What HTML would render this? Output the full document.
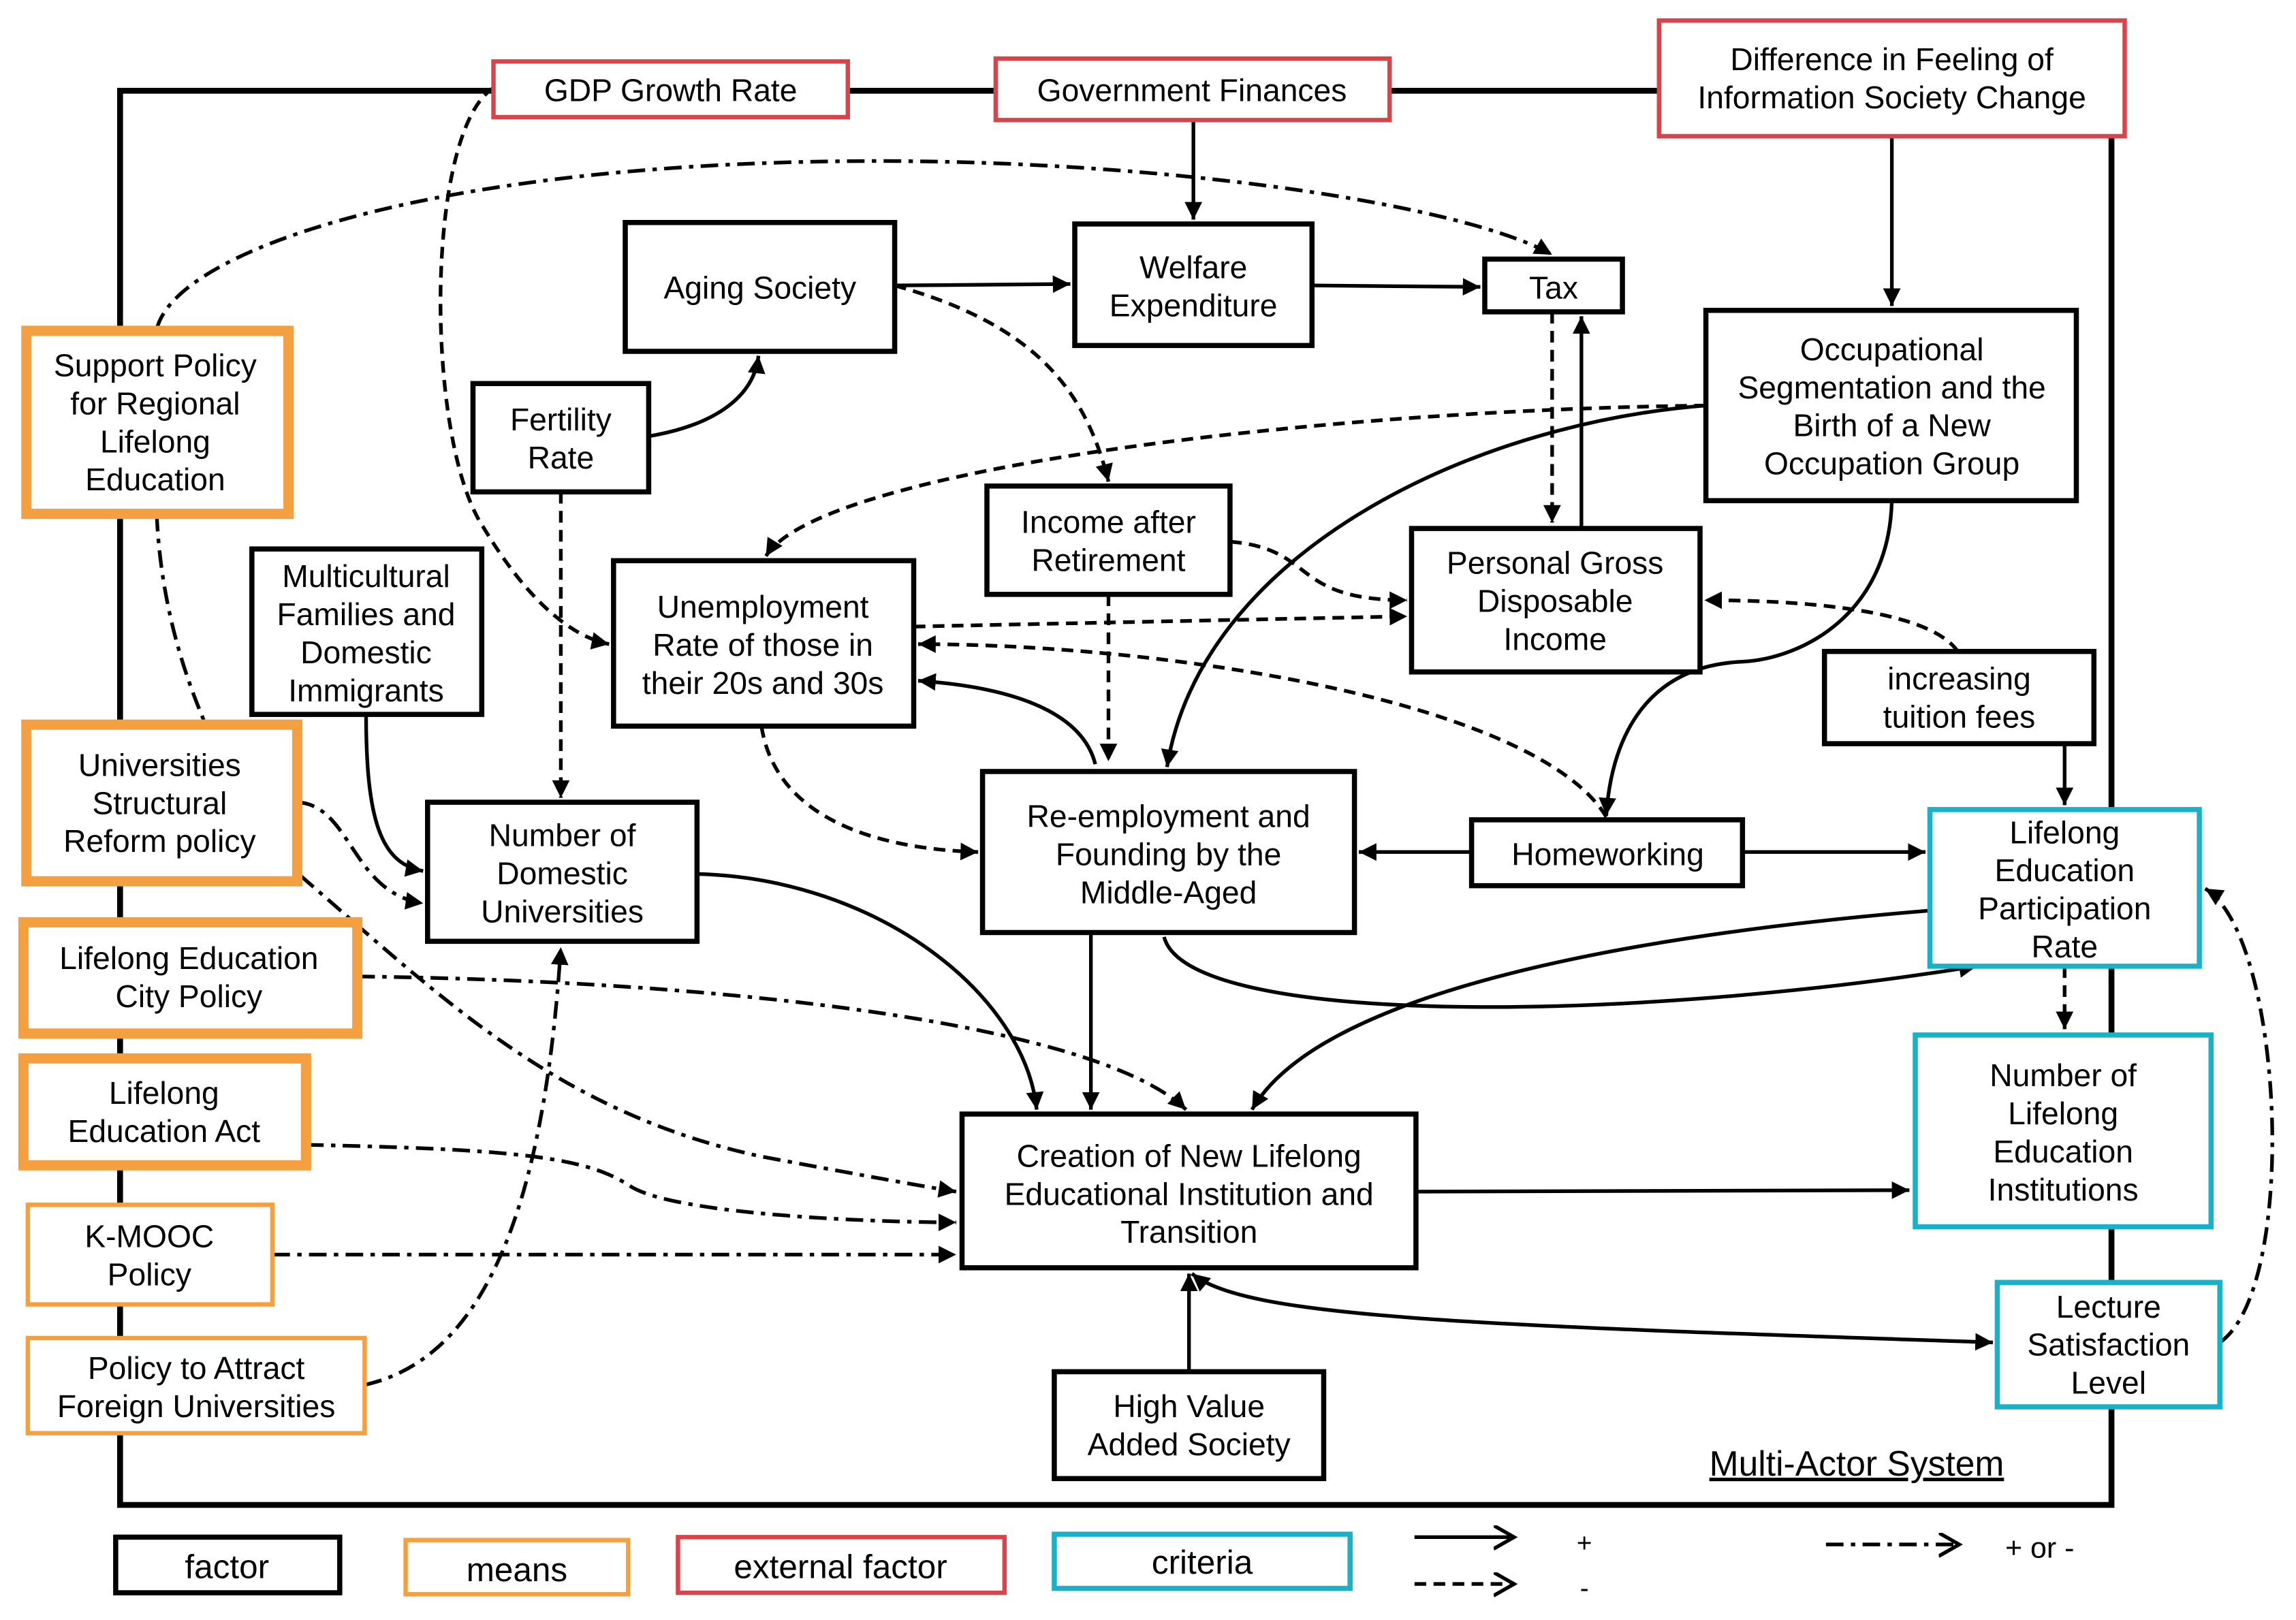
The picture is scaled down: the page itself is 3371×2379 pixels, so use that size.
<!DOCTYPE html>
<html><head><meta charset="utf-8"><style>
html,body{margin:0;padding:0;background:#fff;}
svg{display:block;}
text{font-family:"Liberation Sans",sans-serif;font-size:21.5px;fill:#000;text-anchor:middle;}
</style></head><body>
<svg width="3371" height="2379" viewBox="0 0 1568 1106.6" xmlns="http://www.w3.org/2000/svg">
<defs>
<marker id="a" markerUnits="userSpaceOnUse" markerWidth="14" markerHeight="14" refX="12" refY="6" orient="auto">
<path d="M0,0 L12,6 L0,12 Z" fill="#000"/></marker>
<marker id="as" markerUnits="userSpaceOnUse" markerWidth="14" markerHeight="14" refX="0" refY="6" orient="auto">
<path d="M12,0 L0,6 L12,12 Z" fill="#000"/></marker>
<marker id="o" markerUnits="userSpaceOnUse" markerWidth="20" markerHeight="20" refX="14" refY="8" orient="auto">
<path d="M0,0 L14,8 L0,16" fill="none" stroke="#000" stroke-width="2.5"/></marker>
</defs>
<rect x="82" y="62" width="1360" height="966" fill="none" stroke="#000" stroke-width="4"/>

<g fill="none" stroke="#000" stroke-width="2.5">
<path d="M815,82 L815,150" marker-end="url(#a)"/>
<path d="M611,195 L731,194" marker-end="url(#a)"/>
<path d="M896,195 L1011,196" marker-end="url(#a)"/>
<path d="M1292,93 L1292,209" marker-end="url(#a)"/>
<path d="M443,298 C490,290 515,270 518,243" marker-end="url(#a)"/>
<path d="M1080,360 L1080,216" marker-end="url(#a)"/>
<path d="M1165,277 C1000,290 820,380 797,524" marker-end="url(#a)"/>
<path d="M1292,342 C1290,420 1230,450 1190,452 C1120,455 1100,510 1097,557" marker-end="url(#a)"/>
<path d="M748,522 C740,490 700,470 627,465" marker-end="url(#a)"/>
<path d="M1005,582 L928,582" marker-end="url(#a)"/>
<path d="M1190,582 L1315,582" marker-end="url(#a)"/>
<path d="M1410,508 L1410,550" marker-end="url(#a)"/>
<path d="M250,488 C250,560 260,590 289,595" marker-end="url(#a)"/>
<path d="M476,597 C600,600 700,680 708,758" marker-end="url(#a)"/>
<path d="M745,637 L745,758" marker-end="url(#a)"/>
<path d="M795,640 C810,700 1100,700 1350,660" marker-end="url(#a)"/>
<path d="M1318,622 C1100,640 900,680 855,758" marker-end="url(#a)"/>
<path d="M967,814 L1304,813" marker-end="url(#a)"/>
<path d="M812,937 L812,870" marker-end="url(#a)"/>
<path d="M814,870 C850,900 1000,905 1361,917" marker-start="url(#as)" marker-end="url(#a)"/>
<g stroke-dasharray="8,5">
<path d="M1060,213 L1060,357" marker-end="url(#a)"/>
<path d="M611,195 C700,220 740,260 757,329" marker-end="url(#a)"/>
<path d="M1165,277 C900,280 560,320 523,380" marker-end="url(#a)"/>
<path d="M840,370 C900,375 880,410 961,410" marker-end="url(#a)"/>
<path d="M624,428 L961,421" marker-end="url(#a)"/>
<path d="M1097,558 C1050,480 800,440 627,440" marker-end="url(#a)"/>
<path d="M1337,445 C1320,420 1250,410 1164,410" marker-end="url(#a)"/>
<path d="M757,406 L757,520" marker-end="url(#a)"/>
<path d="M383,336 L383,545" marker-end="url(#a)"/>
<path d="M337,60 C290,90 290,300 330,360 C360,410 390,435 416,440" marker-end="url(#a)"/>
<path d="M520,496 C530,560 600,580 668,582" marker-end="url(#a)"/>
<path d="M1410,660 L1410,703" marker-end="url(#a)"/>
<path d="M966,1082 L1034,1082" marker-end="url(#o)"/>
</g>
<g stroke-dasharray="12,5,3,5">
<path d="M107,225 C120,170 300,110 600,110 C800,110 1000,140 1060,174" marker-end="url(#a)"/>
<path d="M107,351 C110,420 130,470 140,494"/>
<path d="M203,548 C240,550 240,610 289,617" marker-end="url(#a)"/>
<path d="M205,598 C300,680 380,760 520,790 C600,805 640,812 653,814" marker-end="url(#a)"/>
<path d="M244,667 C500,670 750,700 810,758" marker-end="url(#a)"/>
<path d="M209,782 C350,785 400,790 430,810 C460,830 600,835 653,835" marker-end="url(#a)"/>
<path d="M186,857 L653,857" marker-end="url(#a)"/>
<path d="M249,946 C320,930 370,850 383,647" marker-end="url(#a)"/>
<path d="M1516,917 C1570,880 1560,640 1506,607" marker-end="url(#a)"/>
<path d="M1247,1055 L1338,1055" marker-end="url(#o)"/>
</g>
<path d="M966,1050 L1034,1050" marker-end="url(#o)"/>
</g>

<g fill="#fff" stroke-width="3">
<g stroke="#d9434a">
<rect x="337" y="42" width="242" height="38"/>
<rect x="680" y="40" width="269" height="42"/>
<rect x="1133" y="14" width="318" height="79"/>
<rect x="463" y="1050" width="223" height="38"/>
</g>
<g stroke="#000" stroke-width="3.5">
<rect x="427" y="152" width="184" height="88"/>
<rect x="734" y="153" width="162" height="83"/>
<rect x="1014" y="177" width="94" height="36"/>
<rect x="1165" y="212" width="253" height="130"/>
<rect x="323" y="262" width="120" height="74"/>
<rect x="674" y="332" width="166" height="74"/>
<rect x="964" y="361" width="197" height="98"/>
<rect x="172" y="375" width="157" height="113"/>
<rect x="419" y="383" width="205" height="113"/>
<rect x="1246" y="445" width="184" height="63"/>
<rect x="292" y="548" width="184" height="95"/>
<rect x="671" y="527" width="254" height="110"/>
<rect x="1005" y="560" width="185" height="45"/>
<rect x="657" y="761" width="310" height="105"/>
<rect x="720" y="937" width="184" height="73"/>
<rect x="79" y="1050" width="153" height="38"/>
</g>
<g stroke="#f5a040" stroke-width="7">
<rect x="18" y="226" width="179" height="125"/>
<rect x="18" y="495" width="185" height="107"/>
<rect x="16" y="630" width="228" height="76"/>
<rect x="16" y="723" width="193" height="73"/>
</g>
<g stroke="#f5a040">
<rect x="19" y="823" width="167" height="68"/>
<rect x="19" y="914" width="230" height="65"/>
<rect x="277" y="1052" width="152" height="37"/>
</g>
<g stroke="#1ab0c8" stroke-width="3.5">
<rect x="1318" y="553" width="184" height="107"/>
<rect x="1308" y="707" width="202" height="131"/>
<rect x="1364" y="876" width="152" height="85"/>
<rect x="720" y="1048" width="202" height="37"/>
</g>
</g>

<text x="458" y="69">GDP Growth Rate</text>
<text x="814" y="69">Government Finances</text>
<text x="1292" y="48">Difference in Feeling of</text>
<text x="1292" y="74">Information Society Change</text>
<text x="519" y="204">Aging Society</text>
<text x="815" y="190">Welfare</text><text x="815" y="216">Expenditure</text>
<text x="1061" y="204">Tax</text>
<text x="1292" y="246">Occupational</text><text x="1292" y="272">Segmentation and the</text><text x="1292" y="298">Birth of a New</text><text x="1292" y="324">Occupation Group</text>
<text x="106" y="257">Support Policy</text><text x="106" y="283">for Regional</text><text x="106" y="309">Lifelong</text><text x="106" y="335">Education</text>
<text x="383" y="294">Fertility</text><text x="383" y="320">Rate</text>
<text x="757" y="364">Income after</text><text x="757" y="390">Retirement</text>
<text x="1062" y="392">Personal Gross</text><text x="1062" y="418">Disposable</text><text x="1062" y="444">Income</text>
<text x="250" y="401">Multicultural</text><text x="250" y="427">Families and</text><text x="250" y="453">Domestic</text><text x="250" y="479">Immigrants</text>
<text x="521" y="422">Unemployment</text><text x="521" y="448">Rate of those in</text><text x="521" y="474">their 20s and 30s</text>
<text x="1338" y="471">increasing</text><text x="1338" y="497">tuition fees</text>
<text x="109" y="530">Universities</text><text x="109" y="556">Structural</text><text x="109" y="582">Reform policy</text>
<text x="384" y="578">Number of</text><text x="384" y="604">Domestic</text><text x="384" y="630">Universities</text>
<text x="798" y="565">Re-employment and</text><text x="798" y="591">Founding by the</text><text x="798" y="617">Middle-Aged</text>
<text x="1098" y="591">Homeworking</text>
<text x="1410" y="576">Lifelong</text><text x="1410" y="602">Education</text><text x="1410" y="628">Participation</text><text x="1410" y="654">Rate</text>
<text x="129" y="662">Lifelong Education</text><text x="129" y="688">City Policy</text>
<text x="112" y="754">Lifelong</text><text x="112" y="780">Education Act</text>
<text x="1409" y="742">Number of</text><text x="1409" y="768">Lifelong</text><text x="1409" y="794">Education</text><text x="1409" y="820">Institutions</text>
<text x="812" y="797">Creation of New Lifelong</text><text x="812" y="823">Educational Institution and</text><text x="812" y="849">Transition</text>
<text x="102" y="852">K-MOOC</text><text x="102" y="878">Policy</text>
<text x="1440" y="900">Lecture</text><text x="1440" y="926">Satisfaction</text><text x="1440" y="952">Level</text>
<text x="134" y="942">Policy to Attract</text><text x="134" y="968">Foreign Universities</text>
<text x="812" y="968">High Value</text><text x="812" y="994">Added Society</text>
<text x="1268" y="1008" style="text-decoration:underline;font-size:24px">Multi-Actor System</text>
<text x="155" y="1078" style="font-size:23px">factor</text>
<text x="353" y="1080" style="font-size:23px">means</text>
<text x="574" y="1078" style="font-size:23px">external factor</text>
<text x="821" y="1075" style="font-size:23px">criteria</text>
<text x="1082" y="1060" style="font-size:18px">+</text>
<text x="1082" y="1091" style="font-size:18px">-</text>
<text x="1393" y="1064" style="font-size:20px">+ or -</text>
</svg>
</body></html>
